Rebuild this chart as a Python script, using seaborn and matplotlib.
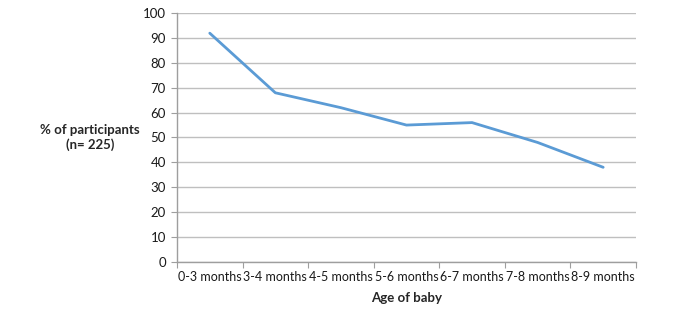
import pandas as pd
import matplotlib
matplotlib.use('Agg')
import matplotlib.pyplot as plt
from matplotlib.ticker import FixedLocator
import seaborn as sns

ages = ['0-3 months', '3-4 months', '4-5 months', '5-6 months',
        '6-7 months', '7-8 months', '8-9 months']
percent = [92, 68, 62, 55, 56, 48, 38]

data = pd.DataFrame({'age': ages, 'percent': percent})

sns.set_style('white')
plt.rcParams['font.family'] = ['Lato', 'DejaVu Sans']

fig = plt.figure(figsize=(6.9, 3.22), dpi=100)
ax = fig.add_axes([0.2565, 0.1873, 0.6652, 0.7714])

sns.lineplot(data=data, x='age', y='percent', color='#5B9BD5', linewidth=2, ax=ax)

n = len(ages)
ax.set_xlim(-0.5, n - 0.5)
ax.set_ylim(0, 100)
ax.set_yticks(range(0, 101, 10))
ax.yaxis.grid(True, color='#BFBFBF', linewidth=1)
ax.xaxis.grid(False)

# Excel style: tick marks between categories, labels in the middle
ax.xaxis.set_major_locator(FixedLocator([i - 0.5 for i in range(n + 1)]))
ax.xaxis.set_minor_locator(FixedLocator(list(range(n))))
ax.set_xticklabels([''] * (n + 1))
ax.set_xticklabels(ages, minor=True)
ax.tick_params(axis='x', which='major', length=4, color='#9E9E9E', direction='out', bottom=True)
ax.tick_params(axis='x', which='minor', length=0, labelsize=9, pad=7, labelcolor='#1A1A1A')
ax.tick_params(axis='y', length=4, color='#9E9E9E', direction='out', left=True,
               labelsize=9.5, pad=4, labelcolor='#1A1A1A')

for side in ['top', 'right']:
    ax.spines[side].set_visible(False)
for side in ['left', 'bottom']:
    ax.spines[side].set_color('#9E9E9E')
    ax.spines[side].set_linewidth(1)

ax.set_xlabel('Age of baby', fontsize=9.5, fontweight='bold', labelpad=6)
ax.set_ylabel('% of participants\n(n= 225)', fontsize=9.5, fontweight='bold',
              rotation=0, ha='center', va='center', linespacing=1.3)
ax.yaxis.set_label_coords(-0.19, 0.5)

fig.savefig('out.png', dpi=100)
